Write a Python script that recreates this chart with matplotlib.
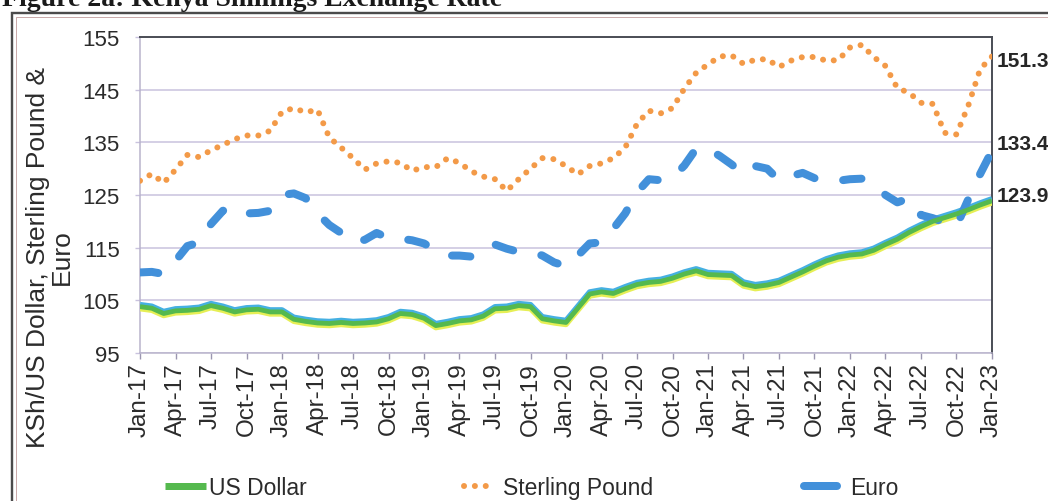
import matplotlib
matplotlib.use("Agg")
import matplotlib.pyplot as plt
import matplotlib.transforms as mtransforms
from matplotlib.lines import Line2D
from matplotlib.patches import Rectangle
import pandas as pd

# ---------------- data ----------------
months = pd.date_range("2017-01-01", "2023-01-01", freq="MS")
month_labels = [d.strftime("%b-%y") for d in months]

usd = [103.8, 103.5, 102.5, 103.0, 103.1, 103.3, 104.0, 103.5, 102.8, 103.2, 103.3, 102.8,
       102.8, 101.4, 101.0, 100.7, 100.6, 100.8, 100.6, 100.7, 100.9, 101.5, 102.5, 102.3,
       101.6, 100.2, 100.6, 101.1, 101.3, 102.0, 103.4, 103.5, 104.0, 103.8, 101.5, 101.1,
       100.8, 103.5, 106.2, 106.6, 106.3, 107.2, 108.0, 108.4, 108.6, 109.2, 110.0, 110.6,
       109.9, 109.8, 109.7, 108.1, 107.6, 107.9, 108.4, 109.4, 110.4, 111.5, 112.5, 113.2,
       113.6, 113.8, 114.5, 115.6, 116.6, 117.9, 119.0, 120.0, 120.7, 121.4, 122.2, 123.1,
       123.9]

gbp = [127.7, 129.0, 127.3, 129.8, 132.6, 132.2, 133.5, 134.5, 135.6, 136.3, 136.3, 137.2,
       140.8, 141.5, 140.7, 141.2, 135.9, 134.0, 132.0, 129.8, 131.0, 131.4, 131.1, 129.6,
       130.3, 130.3, 132.0, 131.1, 129.5, 128.5, 128.0, 125.8, 128.0, 130.0, 132.0, 131.8,
       130.5, 128.9, 130.5, 131.0, 132.0, 134.0, 138.5, 141.0, 140.5, 141.5, 145.2, 148.2,
       149.8, 151.3, 151.5, 149.9, 150.7, 150.8, 149.3, 150.5, 151.2, 151.2, 150.5, 150.6,
       153.0, 153.5, 151.2, 149.5, 145.3, 144.4, 142.5, 142.3, 136.8, 136.5, 142.0, 148.9,
       151.3]

eur = [110.3, 110.4, 110.0, 112.5, 115.3, 116.0, 119.5, 122.0, 122.7, 121.5, 121.6, 122.0,
       125.0, 125.3, 124.4, 121.5, 119.3, 117.8, 116.0, 116.5, 117.8, 116.8, 116.7, 116.4,
       115.8, 114.5, 113.5, 113.5, 113.3, 115.0, 115.6, 114.8, 114.2, 114.2, 113.5, 112.2,
       111.5, 113.5, 115.8, 116.0, 118.6, 121.5, 125.5, 128.0, 127.8, 128.3, 130.6, 133.8,
       133.8, 132.4, 130.8, 129.0, 130.5, 130.0, 127.8, 128.6, 129.2, 128.2, 128.0, 127.7,
       128.0, 128.1, 126.8, 125.0, 123.6, 124.4, 121.2, 120.6, 119.8, 119.1, 124.2, 129.0,
       133.4]

series_names = ["US Dollar", "Sterling Pound", "Euro"]
end_labels = ["151.3", "133.4", "123.9"]
y_ticks = [95, 105, 115, 125, 135, 145, 155]
title = "Figure 2a: Kenya Shillings Exchange Rate"
y_label = "KSh/US Dollar, Sterling Pound &\nEuro"

# ---------------- style ----------------
W, H = 1048, 502
plt.rcParams["font.family"] = ["Liberation Sans", "DejaVu Sans"]
fig = plt.figure(figsize=(W / 100, H / 100), dpi=100)
fig.patch.set_facecolor("white")

def px2pt(p):
    return p * 72 / 100

ax = fig.add_axes([140 / W, 1 - 354 / H, 852 / W, 316 / H])
x = list(range(len(months)))

grid_c = "#c9c2de"
dark_c = "#4a4d55"
txt_c = "#2b2b2b"

# US Dollar: green core with cyan upper edge and yellow lower edge
up = mtransforms.offset_copy(ax.transData, fig=fig, x=0, y=2.0, units="dots")
dn = mtransforms.offset_copy(ax.transData, fig=fig, x=0, y=-2.0, units="dots")
ax.plot(x, usd, color="#e6ef55", lw=px2pt(5.5), transform=dn, solid_capstyle="butt", zorder=3)
ax.plot(x, usd, color="#45b0e2", lw=px2pt(5.5), transform=up, solid_capstyle="butt", zorder=3)
ax.plot(x, usd, color="#55b94e", lw=px2pt(4.8), solid_capstyle="butt", zorder=4)

# Sterling Pound: round dots
gbp_c = "#f39a48"
gbp_lw = px2pt(6.0)
gbp_ls = (0, (0.01, 1.8))
ax.plot(x, gbp, color=gbp_c, lw=gbp_lw, linestyle=gbp_ls, dash_capstyle="round", zorder=3)

# Euro: thick rounded dashes
eur_c = "#4290da"
eur_lw = px2pt(8)
ax.plot(x, eur, color=eur_c, lw=eur_lw, linestyle=(0, (2.3, 3.6)),
        dash_capstyle="round", zorder=3)

ax.set_xlim(0, len(months) - 1)
ax.set_ylim(95, 155)
ax.set_yticks(y_ticks)
ax.set_yticklabels([str(v) for v in y_ticks], fontsize=16, color=txt_c)
ax.set_xticks(x[::3])
ax.set_xticklabels(month_labels[::3], rotation=90, fontsize=17.5, color=txt_c)
ax.tick_params(axis="x", length=px2pt(6), width=1, color="#9b96b0", pad=2)
ax.tick_params(axis="y", length=px2pt(5), width=1, color=grid_c, pad=11)
ax.yaxis.grid(True, color=grid_c, lw=1.1)
ax.set_axisbelow(True)
for s in ["left", "bottom"]:
    ax.spines[s].set_color("#b9b4cc")
    ax.spines[s].set_linewidth(1.1)
for s in ["top", "right"]:
    ax.spines[s].set_color(dark_c)
    ax.spines[s].set_linewidth(1.4)

# end-of-series labels
last = len(months) - 1
end_vals = [gbp[-1], eur[-1], usd[-1]]
end_dy = [-3.0, 5.0, 3.5]
for lab, v, dy in zip(end_labels, end_vals, end_dy):
    ax.annotate(lab, xy=(last, v), xytext=(3.2, dy), textcoords="offset points",
                fontsize=15, fontweight="bold", color="#262626", va="center", ha="left",
                annotation_clip=False)

# y-axis label
fig.text(50 / W, 1 - 257 / H, y_label, rotation=90, ha="center", va="center",
         multialignment="center", fontsize=19, color=txt_c, linespacing=0.95)

# page title (cut off at top, as in the source page) and frame
fig.text(2 / W, 1 - 6 / H, title, fontfamily="Liberation Serif", fontweight="bold",
         fontsize=20, va="baseline", ha="left", color="#1a1a1a")
fig.add_artist(Rectangle((12 / W, -0.2), 1.5, (H - 14) / H + 0.2, transform=fig.transFigure,
                         fill=False, ec="#4b4b4b", lw=px2pt(2.4)))
fig.add_artist(Rectangle((16 / W, -0.2), 1.5, (H - 18) / H + 0.2, transform=fig.transFigure,
                         fill=False, ec="#c9a9a9", lw=0.7))

# legends
leg_y = 1 - 489 / H
h_usd = Line2D([], [], color="#55b94e", lw=px2pt(7), solid_capstyle="butt")
h_gbp = Line2D([], [], color=gbp_c, lw=gbp_lw, linestyle=gbp_ls, dash_capstyle="round")
h_eur = Line2D([], [], color=eur_c, lw=eur_lw, solid_capstyle="round")
for h, name, x0, hl, pad in [(h_usd, series_names[0], 165, 1.8, 0.12),
                              (h_gbp, series_names[1], 464, 1.25, 0.45),
                              (h_eur, series_names[2], 804, 1.45, 0.55)]:
    lg = fig.legend(handles=[h], labels=[name], loc="center left",
                    bbox_to_anchor=(x0 / W, leg_y), frameon=False, fontsize=16.5,
                    handlelength=hl, handletextpad=pad, borderpad=0, borderaxespad=0)
    for t in lg.get_texts():
        t.set_color(txt_c)

fig.savefig("out.png", dpi=100, facecolor="white")
